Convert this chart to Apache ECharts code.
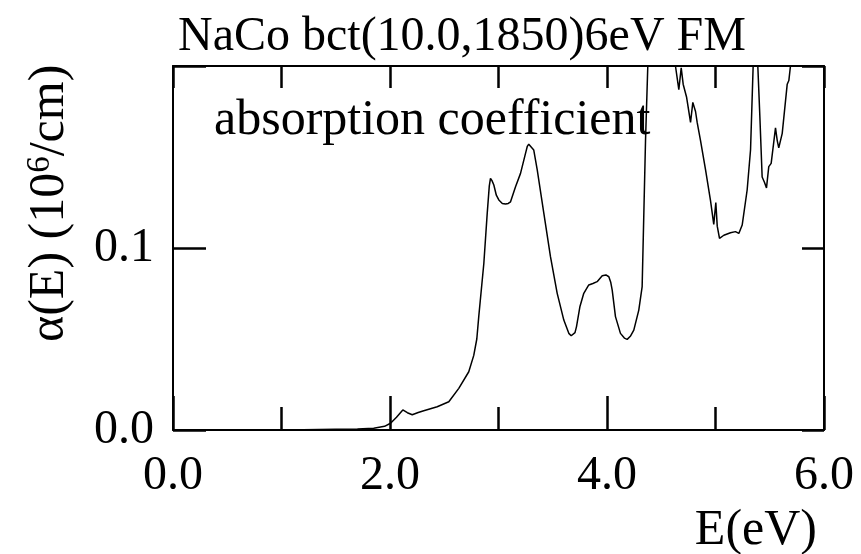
<!DOCTYPE html>
<html>
<head>
<meta charset="utf-8">
<script src="https://cdn.jsdelivr.net/npm/echarts@6/dist/echarts.min.js"></script>
<style>
  html, body { margin: 0; padding: 0; background: #fff; }
  #chart { width: 861px; height: 554px; }
</style>
</head>
<body>
<div id="chart"></div>
<script>
// Photon energy (eV) and absorption coefficient alpha(E) in units of 10^6 /cm
const energy = [
  0.0, 0.5, 1.0, 1.2, 1.5, 1.7, 1.85, 1.95, 2.005, 2.06, 2.118, 2.16, 2.205, 2.26,
  2.311, 2.435, 2.542, 2.634, 2.726, 2.772, 2.80, 2.818, 2.865, 2.896, 2.915, 2.926, 2.94, 2.957,
  2.98, 3.003, 3.035, 3.065, 3.09, 3.111, 3.157, 3.203, 3.249, 3.265, 3.279, 3.295, 3.325, 3.357, 3.418, 3.479, 3.541,
  3.602, 3.648, 3.67, 3.688, 3.705, 3.719, 3.75, 3.786, 3.832, 3.87, 3.909, 3.956, 3.99, 4.017, 4.035, 4.048, 4.078,
  4.124, 4.16, 4.186, 4.215, 4.247, 4.293, 4.324, 4.355, 4.376, 4.40, 4.45, 4.55, 4.61, 4.631,
  4.662, 4.684, 4.702, 4.733, 4.77, 4.791, 4.816, 4.831, 4.862, 4.908, 4.954, 4.984,
  5.003, 5.016, 5.037, 5.077, 5.138, 5.184, 5.215, 5.246, 5.292, 5.323, 5.347, 5.368,
  5.39, 5.409, 5.43, 5.452, 5.47, 5.491, 5.513, 5.553, 5.569, 5.583, 5.615, 5.661,
  5.676, 5.691, 5.75, 5.9, 6.0
];
const alpha = [
  0, 0, 0, 0.0001, 0.0004, 0.0006, 0.001, 0.002, 0.0037, 0.007, 0.011, 0.0095, 0.0084, 0.0096,
  0.0106, 0.0128, 0.0155, 0.0229, 0.032, 0.041, 0.050, 0.0623, 0.0916, 0.119, 0.134, 0.1383, 0.137, 0.1346,
  0.129, 0.1264, 0.1245, 0.1242, 0.1245, 0.1254, 0.1337, 0.141, 0.152, 0.1558, 0.157, 0.1562, 0.1538, 0.1429, 0.119, 0.0952, 0.0751,
  0.0604, 0.0531, 0.0518, 0.0516, 0.0535, 0.0568, 0.0677, 0.0751, 0.0797, 0.0805, 0.0815, 0.0848, 0.0852, 0.0842, 0.081, 0.0769, 0.0623,
  0.0531, 0.0505, 0.0498, 0.0515, 0.0549, 0.0659, 0.0788, 0.159, 0.20, 0.26, 0.32, 0.30, 0.23, 0.20,
  0.187, 0.199, 0.19, 0.183, 0.169, 0.180, 0.175, 0.169, 0.159, 0.143, 0.126, 0.113,
  0.125, 0.112, 0.1053, 0.107, 0.1084, 0.109, 0.108, 0.1126, 0.132, 0.154, 0.20, 0.23,
  0.20, 0.172, 0.139, 0.136, 0.133, 0.1447, 0.1465, 0.166, 0.159, 0.155, 0.163, 0.19,
  0.192, 0.20, 0.25, 0.30, 0.32
];

const titleText = 'NaCo bct(10.0,1850)6eV FM';
const noteText = 'absorption coefficient';
const xName = 'E(eV)';

const FONT = '"Liberation Serif", "Times New Roman", serif';

const chart = echarts.init(document.getElementById('chart'));
const frame = () => ({ show: true, onZero: false, lineStyle: { color: '#000', width: 2 } });
const ticks = len => ({ show: true, inside: true, length: len, lineStyle: { color: '#000', width: 2.5 } });

chart.setOption({
  animation: false,
  title: [
    { text: titleText, left: 173, top: 8,
      textStyle: { fontFamily: FONT, fontSize: 48, fontWeight: 'normal', color: '#000' } },
    { text: noteText, left: 209, top: 91,
      textStyle: { fontFamily: FONT, fontSize: 50, fontWeight: 'normal', color: '#000' } },
    { text: xName, right: 39, top: 501,
      textStyle: { fontFamily: FONT, fontSize: 50, fontWeight: 'normal', color: '#000' } }
  ],
  grid: [{ left: 173, top: 66, width: 651, height: 364 }],
  xAxis: [
    { type: 'value', position: 'bottom', min: 0, max: 6, interval: 2,
      axisLine: frame(), axisTick: ticks(34),
      minorTick: { show: true, splitNumber: 2, length: 23, lineStyle: { color: '#000', width: 2.5 } },
      axisLabel: { show: true, color: '#000', fontFamily: FONT, fontSize: 48, margin: 22, formatter: v => v.toFixed(1) },
      splitLine: { show: false }, minorSplitLine: { show: false } },
    { type: 'value', position: 'top', min: 0, max: 6, interval: 1,
      axisLine: frame(), axisTick: ticks(22),
      axisLabel: { show: true, formatter: () => '' }, splitLine: { show: false } }
  ],
  yAxis: [
    { type: 'value', position: 'left', min: 0, max: 0.2, interval: 0.1,
      axisLine: frame(), axisTick: ticks(33),
      axisLabel: { show: true, color: '#000', fontFamily: FONT, fontSize: 48, margin: 19, formatter: v => (v > 0.15 ? '' : v.toFixed(1)) },
      splitLine: { show: false } },
    { type: 'value', position: 'right', min: 0, max: 0.2, interval: 0.1,
      axisLine: frame(), axisTick: ticks(22),
      axisLabel: { show: true, formatter: () => '' }, splitLine: { show: false } }
  ],
  series: [{
    type: 'line',
    showSymbol: false,
    data: energy.map((e, i) => [e, alpha[i]]),
    lineStyle: { color: '#000', width: 1.5 }
  }],
  graphic: [
    { type: 'text', x: 24, y: 342, rotation: Math.PI / 2,
      style: {
        text: '{a|α(E) (10}{s|6}{a|/cm)}',
        fill: '#000',
        rich: {
          a: { fontFamily: FONT, fontSize: 50, fill: '#000', verticalAlign: 'bottom' },
          s: { fontFamily: FONT, fontSize: 33, fill: '#000', verticalAlign: 'top', padding: [0, 0, 18, 0] }
        }
      } }
  ]
});
</script>
</body>
</html>
